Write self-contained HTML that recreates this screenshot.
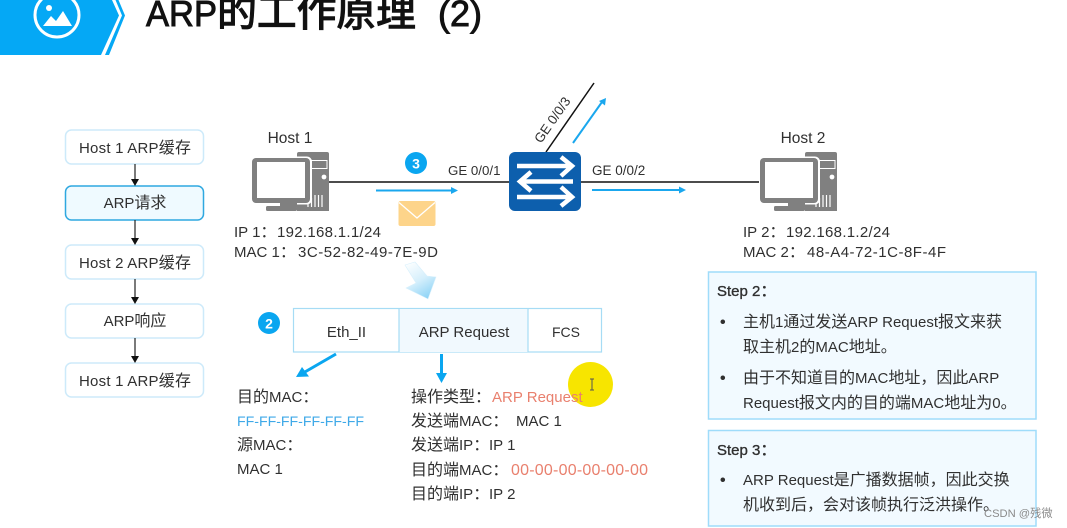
<!DOCTYPE html>
<html lang="zh"><head><meta charset="utf-8"><style>
html,body{margin:0;padding:0;background:#fff;width:1067px;height:528px;overflow:hidden}
svg{display:block}
text{font-family:"Liberation Sans","Noto Sans CJK SC",sans-serif;font-size:16px;fill:#303030}
.l{font-size:15px}
.c{text-anchor:middle}
.r{fill:#e9806e}
.b{fill:#3fa9e8}
.h{font-weight:bold}
.s{stroke:#303030;stroke-width:.35px}
</style></head><body>
<svg width="1067" height="528" viewBox="0 0 1067 528" xmlns="http://www.w3.org/2000/svg">
<defs>
<linearGradient id="g" x1="0.2" y1="0" x2="0.7" y2="1"><stop offset="0" stop-color="#fbfeff"/><stop offset=".5" stop-color="#d5effc"/><stop offset="1" stop-color="#8dd3f6"/></linearGradient>
<g id="pc">
<path d="M45 2q0-2 2-2h28q2 0 2 2v57H45z" fill="#808080"/>
<rect x="59.500" y="8.500" width="15.500" height="8" fill="#808080" stroke="#fff" stroke-width="1"/>
<circle cx="72" cy="25" r="2.400" fill="#fff"/>
<path d="M70 43v12M66.500 43v12M63 43v12M59.500 46v9M56 49v6" stroke="#fff" stroke-width="1.200"/>
<rect x="-1" y="4.500" width="61" height="48" rx="5" fill="#fff"/>
<rect x="0" y="6" width="58" height="45" rx="4" fill="#808080"/>
<rect x="5" y="10" width="48" height="36" fill="#fff"/>
<rect x="28" y="51" width="17" height="4" fill="#808080"/>
<rect x="14" y="54" width="31" height="5" rx="1.500" fill="#808080"/>
</g>
</defs>

<!-- header -->
<polygon points="0,0 112,0 119,15.500 101,55 0,55" fill="#05a8f5"/>
<polygon points="115.500,0 118.500,0 125,15.500 109,55 105,55 122,15.500" fill="#05a8f5"/>
<circle cx="57" cy="15" r="22" fill="none" stroke="#fff" stroke-width="3"/>
<circle cx="49" cy="8" r="3" fill="#fff"/>
<path d="M43 26 L51 16 L56 21 L63 11 L72 26 Z" fill="#fff"/>
<text transform="translate(146,26) scale(.96,1)" style="font-size:36px;fill:#111;stroke:#111;stroke-width:.9px">ARP</text>
<text x="217" y="26" style="font-size:40px;font-weight:500;fill:#111;stroke:#111;stroke-width:.6px" textLength="199">的工作原理</text>
<text x="438" y="26" style="font-size:36px;fill:#111;stroke:#111;stroke-width:.9px">(2)</text>

<!-- left flow -->
<g fill="#fff" stroke="#cdeafa" stroke-width="1.500">
<rect x="65.500" y="130" width="138" height="34" rx="6"/>
<rect x="65.500" y="245" width="138" height="34" rx="6"/>
<rect x="65.500" y="304" width="138" height="34" rx="6"/>
<rect x="65.500" y="363" width="138" height="34" rx="6"/>
</g>
<rect x="65.500" y="186" width="138" height="34" rx="6" fill="#effaff" stroke="#2fa8e0" stroke-width="1.500"/>
<g stroke="#222" stroke-width="1.200">
<path d="M135 164V180M135 220V239M135 279V298M135 338V357"/>
</g>
<g fill="#111">
<path d="M131 179h8l-4 7zM131 238h8l-4 7zM131 297h8l-4 7zM131 356h8l-4 7z"/>
</g>
<text class="c" x="135" y="153" textLength="112"><tspan class="l">Host 1 ARP</tspan>缓存</text>
<text class="c" x="135" y="208"><tspan class="l">ARP</tspan>请求</text>
<text class="c" x="135" y="268" textLength="112"><tspan class="l">Host 2 ARP</tspan>缓存</text>
<text class="c" x="135" y="326"><tspan class="l">ARP</tspan>响应</text>
<text class="c" x="135" y="386" textLength="112"><tspan class="l">Host 1 ARP</tspan>缓存</text>

<!-- network -->
<path d="M329 182H509M581 182H762" stroke="#111" stroke-width="1.500"/>
<path d="M546 152L594 83" stroke="#111" stroke-width="1.500"/>
<use href="#pc" x="252" y="152"/>
<use href="#pc" x="760" y="152"/>
<text class="c" x="290" y="143" style="font-size:15.500px">Host 1</text>
<text class="c" x="803" y="143" style="font-size:15.500px">Host 2</text>

<rect x="509" y="152" width="72" height="59" rx="6" fill="#0d5fad"/>
<g stroke="#fff" stroke-width="4.500" fill="none">
<path d="M517 166H571M561 157L572 166L561 176"/>
<path d="M573 181.500H521M531 172L520 181.500L531 191"/>
<path d="M517 197H571M561 187L572 197L561 206"/>
</g>

<text x="448" y="175" style="font-size:13.300px">GE 0/0/1</text>
<text x="592" y="175" style="font-size:13.500px">GE 0/0/2</text>
<text x="0" y="0" style="font-size:13.300px" transform="translate(541,144) rotate(-55)">GE 0/0/3</text>

<path d="M376 190.500H452" stroke="#1aa7ee" stroke-width="2"/><path d="M451 187l7 3.500-7 3.500z" fill="#1aa7ee"/>
<path d="M592 190H680" stroke="#1aa7ee" stroke-width="2"/><path d="M679 186.500l7 3.500-7 3.500z" fill="#1aa7ee"/>
<path d="M573 143L602 102" stroke="#1aa7ee" stroke-width="2"/><path d="M599 101l7-3-1 7.500z" fill="#1aa7ee"/>

<circle cx="416" cy="163" r="11" fill="#0aa6f0"/>
<text class="c h" x="416" y="168.500" style="fill:#fff;font-size:14px">3</text>
<circle cx="269" cy="323" r="11" fill="#0aa6f0"/>
<text class="c h" x="269" y="328.500" style="fill:#fff;font-size:14px">2</text>

<rect x="398.500" y="201" width="37" height="25" rx="2" fill="#fdd48a"/>
<path d="M399 202.500L417 218L435 202.500" fill="none" stroke="#fff" stroke-width="1.300"/>

<text x="234" y="237"><tspan class="l">IP 1</tspan>：</text><text class="l" x="277" y="237" textLength="104">192.168.1.1/24</text>
<text x="234" y="257"><tspan class="l">MAC 1</tspan>：</text><text class="l" x="298" y="257" textLength="140">3C-52-82-49-7E-9D</text>
<text x="743" y="237"><tspan class="l">IP 2</tspan>：</text><text class="l" x="786" y="237" textLength="104">192.168.1.2/24</text>
<text x="743" y="257"><tspan class="l">MAC 2</tspan>：</text><text class="l" x="807" y="257" textLength="139">48-A4-72-1C-8F-4F</text>

<!-- big arrow -->
<polygon points="405,265 415,262 427,276 436,277 428,299 406,288 416,283" fill="url(#g)" stroke="#d8f0fc" stroke-width=".6"/>

<!-- frame -->
<rect x="293.500" y="308.500" width="308" height="43.500" fill="#fff" stroke="#a6dcf5" stroke-width="1.200"/>
<rect x="399" y="309" width="129" height="43" fill="#f1f9fe"/>
<path d="M399 308V352M528 308V352" stroke="#a6dcf5" stroke-width="1.200"/>
<text class="c l" x="346.500" y="337">Eth_II</text>
<text class="c l" x="464" y="337">ARP Request</text>
<text x="552" y="337" style="font-size:14px">FCS</text>

<path d="M336 354L304 372.500" stroke="#0aa6f0" stroke-width="3"/><path d="M302 367L296 377L309 376.500z" fill="#0aa6f0"/>
<path d="M441.500 354V376" stroke="#0aa6f0" stroke-width="3"/><path d="M436 373H447L441.500 383z" fill="#0aa6f0"/>

<circle cx="590.500" cy="384.500" r="22.500" fill="#f7e500"/>
<path d="M590 379h4M592 379v11M590 390h4" stroke="#555" stroke-width="1" fill="none"/>

<text x="237" y="402">目的<tspan class="l">MAC</tspan>：</text>
<text class="b" x="237" y="426" style="font-size:14.200px" textLength="127">FF-FF-FF-FF-FF-FF</text>
<text x="237" y="450">源<tspan class="l">MAC</tspan>：</text>
<text class="l" x="237" y="474">MAC 1</text>

<text x="411" y="402">操作类型：</text><text class="l r" x="492" y="402">ARP Request</text>
<text x="411" y="426">发送端<tspan class="l">MAC</tspan>：</text><text class="l" x="516" y="426">MAC 1</text>
<text x="411" y="450">发送端<tspan class="l">IP</tspan>：</text><text class="l" x="489" y="450">IP 1</text>
<text x="411" y="475">目的端<tspan class="l">MAC</tspan>：</text><text class="r" x="511" y="475" textLength="137">00-00-00-00-00-00</text>
<text x="411" y="499">目的端<tspan class="l">IP</tspan>：</text><text class="l" x="489" y="499">IP 2</text>

<!-- steps -->
<rect x="708.500" y="272" width="327.500" height="147" fill="#f2faff" stroke="#9fdcfa" stroke-width="1.500"/>
<rect x="708.500" y="430.500" width="327.500" height="95.500" fill="#f2faff" stroke="#9fdcfa" stroke-width="1.500"/>
<text class="s" x="717" y="296"><tspan class="l">Step 2</tspan>：</text>
<text class="h" x="720" y="327">•</text>
<text x="743" y="327">主机<tspan class="l">1</tspan>通过发送<tspan class="l">ARP Request</tspan>报文来获</text>
<text x="743" y="352">取主机<tspan class="l">2</tspan>的<tspan class="l">MAC</tspan>地址。</text>
<text class="h" x="720" y="383">•</text>
<text x="743" y="383">由于不知道目的<tspan class="l">MAC</tspan>地址，因此<tspan class="l">ARP</tspan></text>
<text x="743" y="408"><tspan class="l">Request</tspan>报文内的目的端<tspan class="l">MAC</tspan>地址为<tspan class="l">0</tspan>。</text>
<text class="s" x="717" y="455"><tspan class="l">Step 3</tspan>：</text>
<text class="h" x="720" y="485">•</text>
<text x="743" y="485"><tspan class="l">ARP Request</tspan>是广播数据帧，因此交换</text>
<text x="743" y="510">机收到后，会对该帧执行泛洪操作。</text>

<text x="984" y="517" style="font-size:11.200px;fill:#8a8a8a">CSDN @残微</text>
</svg>
</body></html>
